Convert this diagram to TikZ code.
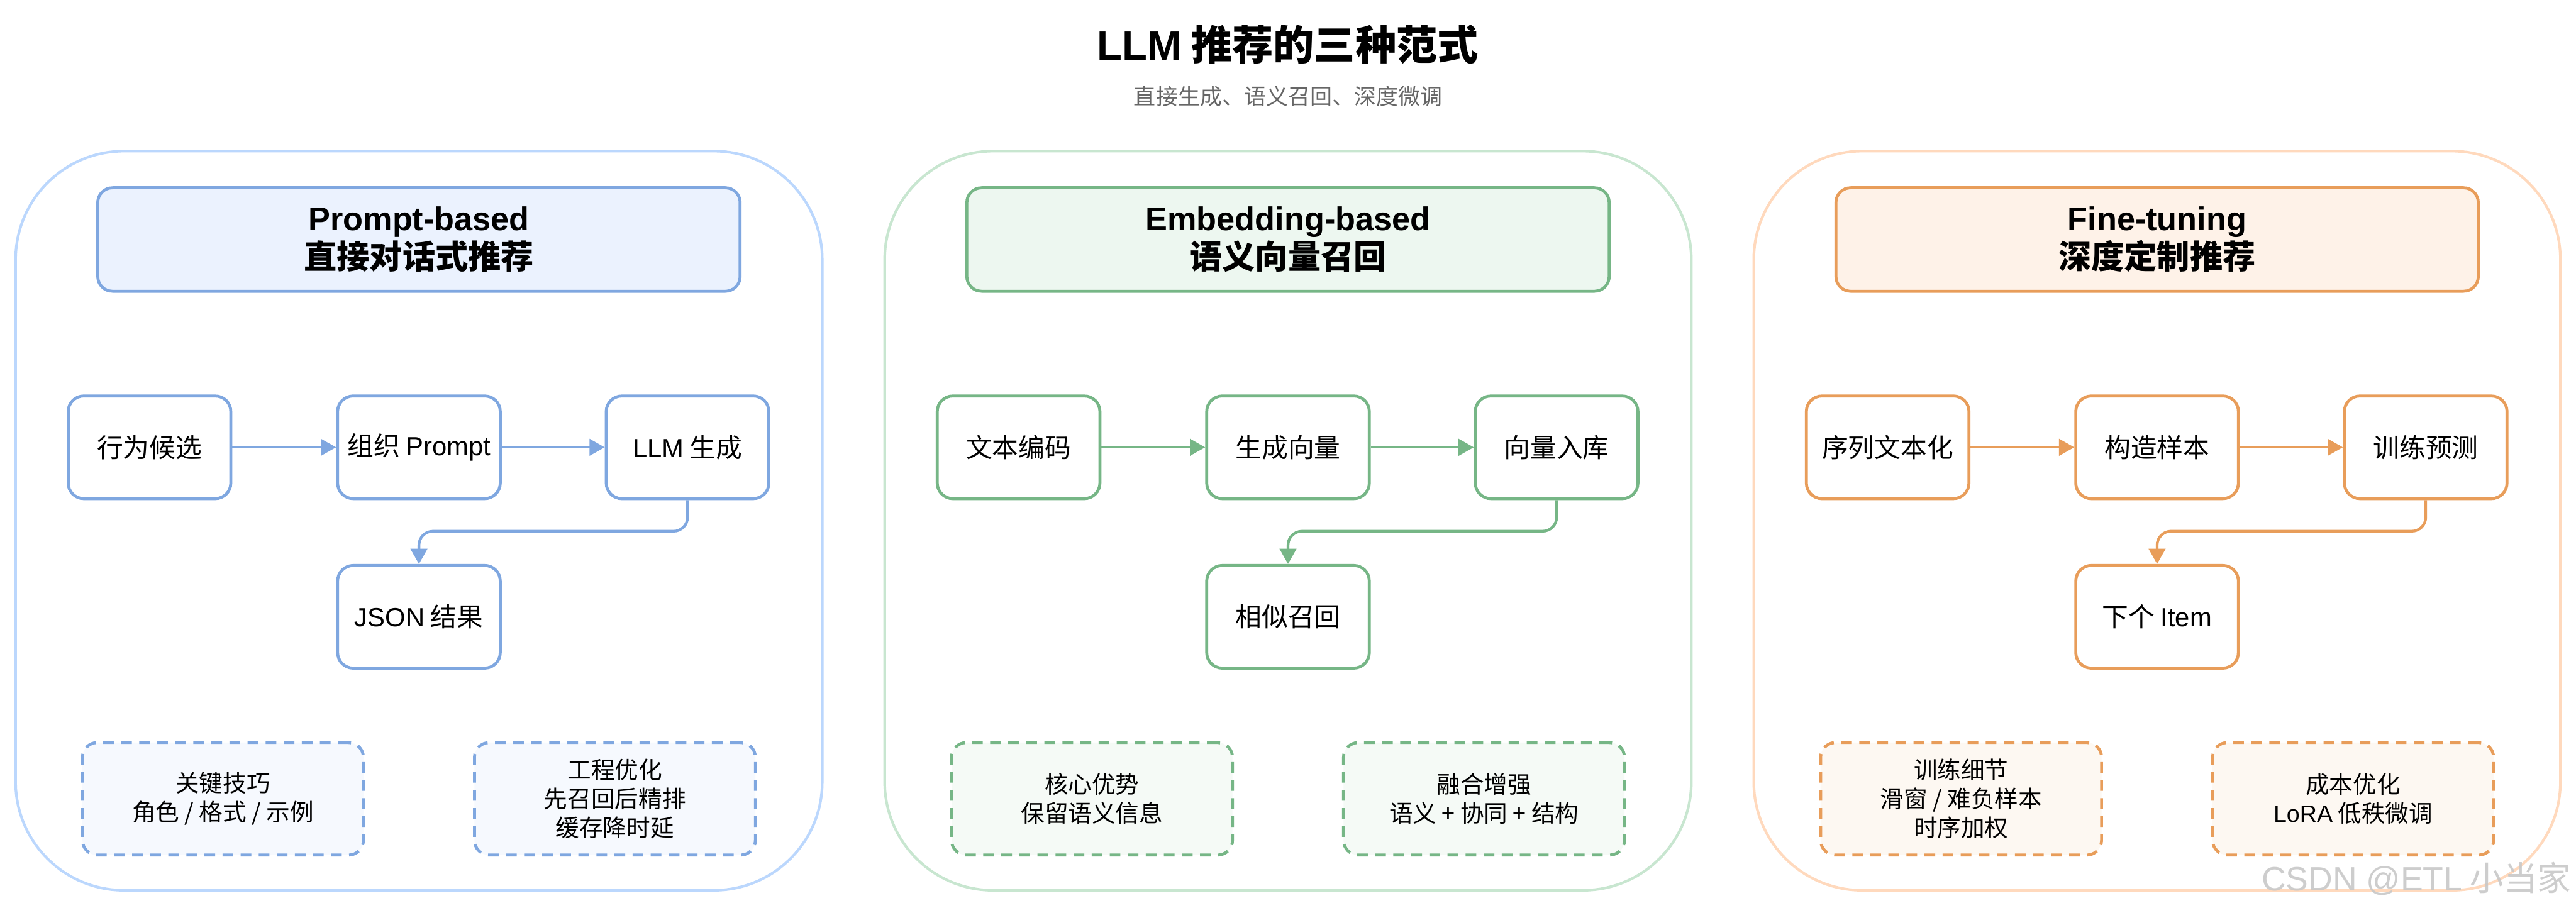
\documentclass[tikz,border=0pt]{standalone}
\usepackage{fontspec}
\setmainfont{Noto Sans CJK SC}
\newfontfamily\lat{Liberation Sans}
\usetikzlibrary{arrows.meta,calc}

\definecolor{panelB}{HTML}{BBD7FD}
\definecolor{strokeB}{HTML}{7FA7E0}
\definecolor{hfillB}{HTML}{EBF2FE}
\definecolor{nfillB}{HTML}{F6F9FE}
\definecolor{panelG}{HTML}{C8E6D0}
\definecolor{strokeG}{HTML}{76B686}
\definecolor{hfillG}{HTML}{EDF7F0}
\definecolor{nfillG}{HTML}{F5FAF6}
\definecolor{panelO}{HTML}{FFD9BD}
\definecolor{strokeO}{HTML}{E89D5A}
\definecolor{hfillO}{HTML}{FEF2E8}
\definecolor{nfillO}{HTML}{FDF8F2}
\definecolor{subgrey}{HTML}{666666}
\definecolor{wmgrey}{HTML}{C8C8C8}

\tikzset{
  panelbox/.style={draw=#1, line width=1.6pt, rounded corners=66pt,
    minimum width=491pt, minimum height=450pt, inner sep=0pt},
  hdrbox/.style 2 args={draw=#1, fill=#2, line width=1.8pt, rounded corners=9pt,
    minimum width=391pt, minimum height=63pt, align=center, inner sep=0pt,
    font=\bfseries\fontsize{20pt}{23.5pt}\selectfont},
  procbox/.style={draw=#1, fill=white, line width=1.8pt, rounded corners=9.5pt,
    minimum width=99pt, minimum height=62.5pt, inner sep=0pt,
    font=\fontsize{16pt}{19pt}\selectfont},
  notebox/.style 2 args={draw=#1, fill=#2, line width=1.8pt,
    dash pattern=on 6.5pt off 4.5pt, rounded corners=9pt,
    minimum width=171pt, minimum height=68.5pt, align=center, inner sep=0pt,
    font=\fontsize{14.4pt}{17.5pt}\selectfont},
  flow/.style={draw=#1, line width=1.65pt, rounded corners=8.5pt,
    -{Triangle[length=9.3pt,width=10pt]}},
}

\begin{document}
\begin{tikzpicture}[x=1pt,y=-1pt]
\fill[white] (0,0) rectangle (1568,552.4);
\useasboundingbox (0,0) rectangle (1568,552.4);

% title
\node[font=\bfseries\fontsize{25pt}{30pt}\selectfont] (title) at (784,27) {{\lat LLM} 推荐的三种范式};
\node[font=\fontsize{13.4pt}{16pt}\selectfont, text=subgrey] (subtitle) at (784,58.8) {直接生成、语义召回、深度微调};

\path (0,323.4) coordinate (yb);

% ---------- panel 1 ----------
\node[panelbox=panelB] (p1) at (255,317) {};
\node[hdrbox={strokeB}{hfillB}] (h1) at (255,145.8) {{\lat Prompt-based}\\直接对话式推荐};
\node[procbox=strokeB] (b11) at (91,272.3) {行为候选};
\node[procbox=strokeB] (b12) at (255,272.3) {组织 {\lat Prompt}};
\node[procbox=strokeB] (b13) at (418.5,272.3) {{\lat LLM} 生成};
\node[procbox=strokeB] (b14) at (255,375.5) {{\lat JSON} 结果};
\node[notebox={strokeB}{nfillB}] (n11) at (135.7,486.3) {关键技巧\\角色 / 格式 / 示例};
\node[notebox={strokeB}{nfillB}] (n12) at (374.3,486.3) {工程优化\\先召回后精排\\缓存降时延};
\draw[flow=strokeB] (b11.east) -- (b12.west);
\draw[flow=strokeB] (b12.east) -- (b13.west);
\draw[flow=strokeB] (b13.south) -- (b13.south |- yb) -| (b14.north);

% ---------- panel 2 ----------
\node[panelbox=panelG] (p2) at (784,317) {};
\node[hdrbox={strokeG}{hfillG}] (h2) at (784,145.8) {{\lat Embedding-based}\\语义向量召回};
\node[procbox=strokeG] (b21) at (620,272.3) {文本编码};
\node[procbox=strokeG] (b22) at (784,272.3) {生成向量};
\node[procbox=strokeG] (b23) at (947.5,272.3) {向量入库};
\node[procbox=strokeG] (b24) at (784,375.5) {相似召回};
\node[notebox={strokeG}{nfillG}] (n21) at (664.7,486.3) {核心优势\\保留语义信息};
\node[notebox={strokeG}{nfillG}] (n22) at (903.3,486.3) {融合增强\\语义 + 协同 + 结构};
\draw[flow=strokeG] (b21.east) -- (b22.west);
\draw[flow=strokeG] (b22.east) -- (b23.west);
\draw[flow=strokeG] (b23.south) -- (b23.south |- yb) -| (b24.north);

% ---------- panel 3 ----------
\node[panelbox=panelO] (p3) at (1313,317) {};
\node[hdrbox={strokeO}{hfillO}] (h3) at (1313,145.8) {{\lat Fine-tuning}\\深度定制推荐};
\node[procbox=strokeO] (b31) at (1149,272.3) {序列文本化};
\node[procbox=strokeO] (b32) at (1313,272.3) {构造样本};
\node[procbox=strokeO] (b33) at (1476.5,272.3) {训练预测};
\node[procbox=strokeO] (b34) at (1313,375.5) {下个 {\lat Item}};
\node[notebox={strokeO}{nfillO}] (n31) at (1193.7,486.3) {训练细节\\滑窗 / 难负样本\\时序加权};
\node[notebox={strokeO}{nfillO}] (n32) at (1432.3,486.3) {成本优化\\{\lat LoRA} 低秩微调};
\draw[flow=strokeO] (b31.east) -- (b32.west);
\draw[flow=strokeO] (b32.east) -- (b33.west);
\draw[flow=strokeO] (b33.south) -- (b33.south |- yb) -| (b34.north);

% watermark
\node[anchor=west, text=wmgrey, opacity=0.9, inner sep=0pt,
  font=\fontsize{20.5pt}{24pt}\selectfont] (wm) at (1376.5,535) {{\lat CSDN @ETL} 小当家};
\end{tikzpicture}
\end{document}
